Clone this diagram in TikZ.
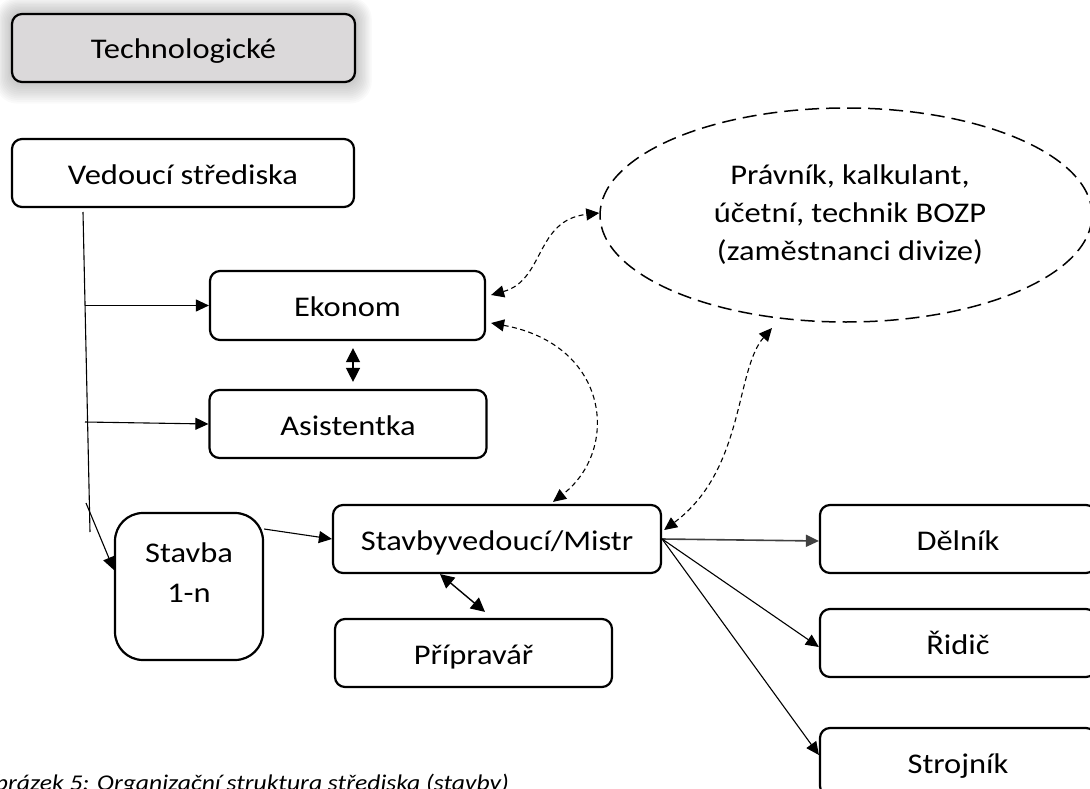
\documentclass[tikz,border=0pt]{standalone}
\usepackage{fontspec}
\setmainfont{Carlito}[FakeStretch=1.14]
\usetikzlibrary{arrows.meta,shapes.geometric,calc}
\definecolor{techfill}{HTML}{DBD9DA}
\begin{document}
\begin{tikzpicture}[x=1pt,y=-1pt,
  >={Triangle[length=13pt,width=12pt]},
  box/.style={draw, line width=2.2pt, rounded corners=10pt, inner sep=0pt,
    minimum width=276pt, minimum height=68pt, text height=22pt, text depth=0pt,
    font=\fontsize{28.5}{38}\selectfont},
  txt/.style={inner sep=0pt, align=center, font=\fontsize{28.5}{38}\selectfont},
  conn/.style={line width=1.1pt, ->},
  link/.style={line width=1.1pt, dash pattern=on 5pt off 3.5pt, <->},
  twoway/.style={line width=1.4pt, <->, >={Triangle[length=14pt,width=14pt]}}]
\useasboundingbox (0,0) rectangle (1090,789);
\clip (0,0) rectangle (1090,789);

% soft glow behind the grey box
\foreach \g in {1,...,12}
  \fill[black, opacity=0.018, rounded corners=10pt+\g pt]
    (12-1.4*\g,14-1.4*\g) rectangle (355+1.4*\g,82+1.8*\g);

% boxes
\node[box, fill=techfill, minimum width=343pt] (tech) at (183.5,48) {Technologické};
\node[box, minimum width=342pt] (ved) at (183,173) {Vedoucí střediska};
\node[box, minimum width=275pt, minimum height=69pt] (ek) at (347.5,305.5) {Ekonom};
\node[box, minimum width=277pt] (as) at (348,424) {Asistentka};
\node[box, minimum width=328pt] (sv) at (497,539) {Stavbyvedoucí/Mistr};
\node[box, minimum width=148pt, minimum height=147pt, rounded corners=28pt] (stavba) at (189,586.5) {};
\node[txt, font=\fontsize{28.5}{40}\selectfont] (stavbatxt) at (189,573) {Stavba\\1-n};
\node[box, minimum width=277pt] (pr) at (473.5,653) {Přípravář};
\node[box] (dl) at (958,539) {Dělník};
\node[box] (ri) at (958,643) {Řidič};
\node[box] (st) at (958,762) {Strojník};

% staff of the division
\node[draw, ellipse, line width=1.5pt, dash pattern=on 14pt off 7pt,
  minimum width=492pt, minimum height=214pt, inner sep=0pt] (ell) at (846,215) {};
\node[txt] (elltxt) at (850,215) {Právník, kalkulant,\\účetní, technik BOZP\\(zaměstnanci divize)};

% trunk from the head of the centre
\coordinate (t0) at (83,212);
\coordinate (t1) at (90,532);
\draw[line width=1.1pt] (t0) -- (t1);
\coordinate (b1) at (85,305.5);
\coordinate (b2) at (85,422);
\coordinate (b3) at (86,503);
\draw[conn] (b1) -- (ek.west);
\draw[conn] (b2) -- (as.west);
\draw[conn] (b3) -- ($(stavba.west)+(0,-16.5)$);
\draw[conn] ($(stavba.east)+(0,-57.5)$) -- (sv.west);

% two-way links
\draw[twoway] ($(ek.south)+(5.5,7)$) -- ($(as.north)+(5,-7)$);
\draw[twoway] ($(sv.south)+(-57,0)$) -- ($(pr.north)+(11.5,-6)$);

% site manager to workers
\draw[conn, line width=1.6pt, draw=black!75] (sv.east) -- ($(dl.west)+(0,2)$);
\draw[conn] (sv.east) -- ($(ri.west)+(0,4)$);
\draw[conn] (sv.east) -- ($(st.west)+(0,-7)$);

% dashed links
\draw[link] ($(ek.east)+(5,-10.5)$) .. controls (545,280) and (535,220) .. ($(ell.west)+(0,-2)$);
\draw[link] ($(ek.east)+(5,17.5)$) .. controls (610,345) and (620,450) .. ($(sv.north)+(56,-2)$);
\draw[link] ($(ell.center)+(-74,113)$) .. controls (735,370) and (745,470) .. ($(sv.east)+(2,-9)$);

% caption, running past the lower and left edges
\node[anchor=base west, inner sep=0pt, font=\fontsize{22.5}{28}\selectfont\itshape] (cap) at (-22,790)
  {Obrázek 5: Organizační struktura střediska (stavby)};
\end{tikzpicture}
\end{document}
